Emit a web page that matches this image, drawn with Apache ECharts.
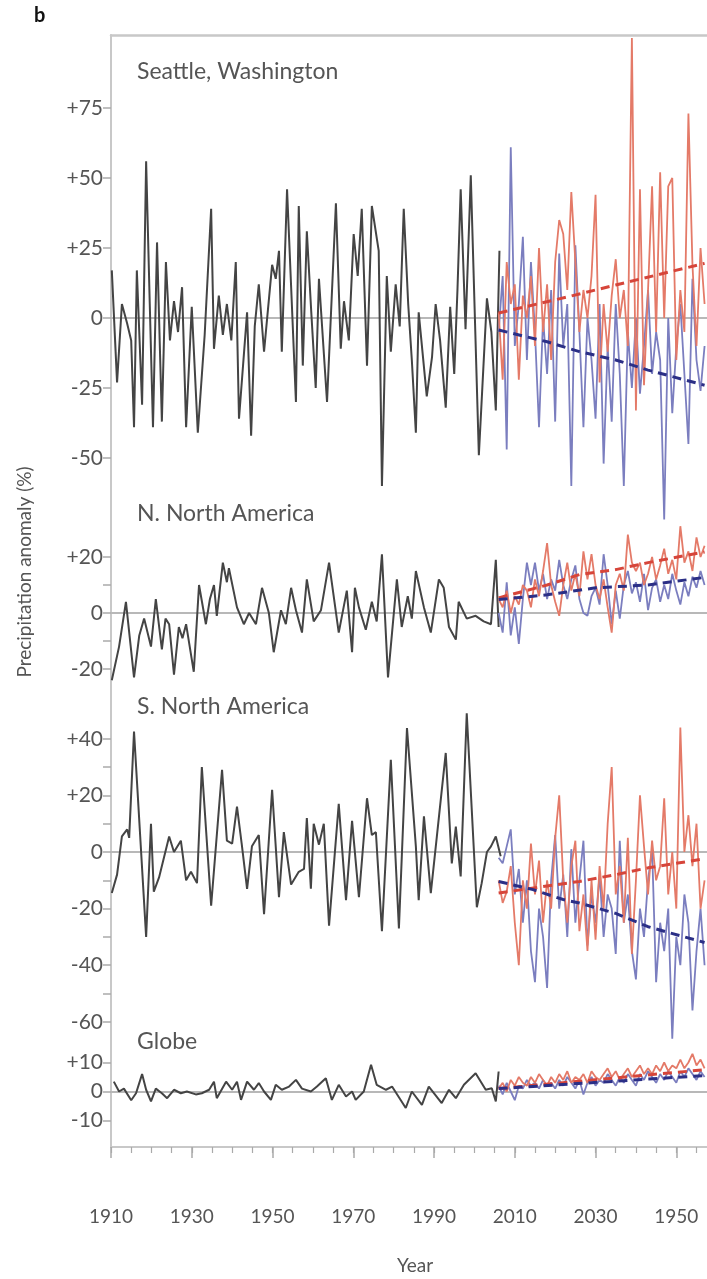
<!DOCTYPE html>
<html><head><meta charset="utf-8">
<script src="https://cdn.jsdelivr.net/npm/echarts@6/dist/echarts.min.js"></script>
<style>html,body{margin:0;padding:0;background:#fff}#c{width:707px;height:1279px}</style>
</head><body><div id="c"></div>
<script>
// ---------- tick labels ----------
const xTickYears = [1910,1930,1950,1970,1990,2010,2030,2050];
const xTickLabels = ['1910','1930','1950','1970','1990','2010','2030','1950'];
const panelTitles = ['Seattle, Washington','N. North America','S. North America','Globe'];
const seattleTicks = [-50,-25,0,25,50,75];
const nnaTicks = [-20,-10,0,10,20];
const nnaLabels = [-20,0,20];
const snaTicks = [-60,-50,-40,-30,-20,-10,0,10,20,30,40];
const snaLabels = [-60,-40,-20,0,20,40];
const globeTicks = [-10,0,10];

// ---------- observed (black), [year, % anomaly] ----------
const seattleObs = [[1910.2,17],[1911.5,-23],[1912.7,5],[1914.0,-2],[1915.0,-8],[1915.7,-39],[1916.4,17],[1917.7,-31],[1918.7,56],[1919.6,5],[1920.4,-39],[1921.4,27],[1922.6,-37],[1923.6,20],[1924.6,-8],[1925.6,6],[1926.6,-5],[1927.6,11],[1928.6,-39],[1930.0,4],[1931.5,-41],[1933.2,-6],[1934.8,39],[1935.5,-11],[1936.7,8],[1937.7,-6],[1938.7,5],[1939.8,-8],[1940.9,20],[1941.7,-36],[1943.7,2],[1944.7,-42],[1945.6,-3],[1946.6,12],[1947.9,-12],[1949.9,19],[1950.8,14],[1951.6,24],[1952.3,-12],[1953.6,46],[1955.8,-30],[1956.5,40],[1957.5,-17],[1958.5,31],[1959.6,2],[1960.7,-25],[1961.5,14],[1963.5,-30],[1965.7,41],[1966.9,-11],[1967.7,6],[1968.9,-8],[1970.1,30],[1971.1,15],[1972.1,39],[1973.4,-17],[1974.6,40],[1976.3,24],[1977.1,-60],[1978.3,15],[1979.3,-12],[1980.5,12],[1981.5,-3],[1982.5,39],[1983.6,5],[1984.5,-15],[1985.5,-41],[1986.2,2],[1988.2,-28],[1989.5,-14],[1990.4,5],[1991.5,-8],[1992.9,-32],[1994.0,4],[1995.0,-20],[1995.8,10],[1996.6,46],[1997.8,-4],[1999.1,51],[2001.1,-49],[2003.1,7],[2004.2,-5],[2005.3,-33],[2006.2,24]];
const nnaObs = [[1910.2,-24],[1912,-12],[1913.7,4],[1915.7,-23],[1917,-8],[1918.2,-2],[1919.9,-12],[1921.1,5],[1922.6,-13],[1923.5,-2],[1924.4,-4],[1925.6,-22],[1926.8,-5],[1927.7,-9],[1928.6,-4],[1930.5,-21],[1931.8,10],[1933.5,-4],[1934.5,5],[1935.5,10],[1936.2,-1],[1937.7,18],[1938.7,11],[1939.2,16],[1941.2,2],[1942.9,-4],[1944.2,0],[1945.9,-4],[1947.4,9],[1949.1,0],[1950.3,-14],[1952.1,1],[1953.3,-4],[1954.6,9],[1955.8,1],[1957.3,-7],[1958.5,12],[1960.2,-3],[1962,1],[1964,18],[1966.4,-7],[1968.4,8],[1969.7,-14],[1970.4,9],[1971.4,2],[1973.1,-6],[1974.6,4],[1975.8,-3],[1977.1,21],[1978.6,-23],[1980.8,12],[1982,-5],[1983.5,6],[1984.5,-2],[1985.5,15],[1987.5,2],[1989.2,-7],[1991.2,12],[1992.4,9],[1993.7,-5],[1995.4,-9.5],[1996.1,4],[1998.1,-2],[2000.3,-1],[2002.3,-3],[2004.1,-4],[2005.3,19],[2006,-5]];
const snaObs = [[1910.2,-14.5],[1911.5,-8],[1912.7,5.5],[1914,8],[1914.5,5],[1915.7,42.6],[1918.7,-30],[1919.9,10],[1920.6,-14],[1921.9,-9],[1924.4,5.5],[1925.6,0],[1927.3,4],[1928.6,-10],[1929.8,-7],[1931.3,-11],[1932.5,30],[1934.8,-19],[1937.5,29],[1938.7,4],[1940,3],[1941.2,16],[1942.4,2.5],[1943.7,-13],[1944.9,2],[1946.6,6],[1947.9,-22],[1949.9,22],[1951.6,-16],[1952.8,7],[1954.6,-11.5],[1956.5,-7],[1957.8,-6],[1958.5,12],[1959.5,-13],[1960.2,10],[1961.5,2.6],[1962.7,10],[1964,-26],[1966.4,17],[1968.2,-17],[1969.7,11],[1971.4,-16],[1973.4,19],[1974.6,6],[1975.6,7],[1977.1,-28],[1979.3,32.6],[1981.3,-27],[1983.3,43.8],[1985.5,2],[1986.2,-17],[1987.5,12.6],[1989.2,-14.5],[1990.7,5.5],[1992.9,35],[1994.4,-4],[1995.4,9],[1996.6,-8.6],[1998.1,49],[2000.6,-19.5],[2001.8,-11],[2003.1,0],[2004.1,2],[2005.3,5.5],[2006.5,-1.5]];
const globeObs = [[1910.7,3.4],[1912,0],[1913.2,1],[1915,-3],[1916.2,-0.6],[1917.7,6],[1918.7,0.6],[1919.9,-3.4],[1921.1,1],[1922.6,-0.6],[1923.9,-2.3],[1925.6,0.6],[1927.3,-0.6],[1928.8,0],[1931,-1],[1932.5,-0.6],[1934.3,0.6],[1935.5,3.4],[1936.2,-2.3],[1938.5,3.4],[1940,0.6],[1941.2,3.4],[1942.2,-2.9],[1943.7,3.4],[1945.4,0.6],[1946.6,2.9],[1947.9,0],[1949.6,-2.9],[1950.8,2.3],[1952.3,0.6],[1954.1,1.7],[1955.8,4],[1957.3,1],[1959.5,0],[1961,1.7],[1963.2,4.6],[1964.7,-2.9],[1966.4,2.3],[1968.2,-1.7],[1969.7,0],[1970.6,-2.9],[1972.6,0],[1974.4,9.2],[1975.8,2.3],[1978.1,0.6],[1979.6,1.7],[1983,-5.7],[1984.5,0],[1987,-4.6],[1988.7,1.7],[1991.9,-4],[1993.7,0.6],[1995.4,-2.3],[1997.4,2.3],[2000.3,6.3],[2002.8,0.6],[2004.3,1.1],[2005.3,-3.4],[2006,6.9]];

// ---------- projections, yearly from 2006 ----------
const projStart = 2006;
const seattleRed = [2,-22,20,5,12,-22,8,0,15,-10,25,-5,12,-15,20,35,30,10,45,20,-5,10,0,15,44,-23,5,-12,8,21,0,10,-10,100,-33,46,-24,10,47,-5,52,0,47,50,-15,10,-5,73,19,-10,25,5];
const seattleBlue = [-5,15,-47,61,-10,5,29,-15,20,-5,-39,0,-20,10,-37,23,-10,5,-60,26,-5,-39,0,-15,-36,5,-52,-10,-37,5,-20,-60,-5,-25,0,-27,-10,10,-20,-5,-15,-72,0,-34,-10,5,-20,-45,14,-15,-26,-10];
const nnaRed = [5,2,8,0,6,3,10,8,2,12,6,15,25,10,4,-1,10,18,8,14,6,22,12,21,10,5,12,2,-7,10,14,8,28,18,15,18,10,14,20,12,17,23,14,19,12,31,18,22,15,27,20,24];
const nnaBlue = [0,-7,11,-8,2,-11,5,18,10,18,8,14,5,12,8,19,10,5,12,17,5,0,-1,6,9,3,21,10,-4,8,-2,10,15,7,11,4,14,1,9,12,4,10,5,14,8,3,11,6,13,9,15,10];
const snaRed = [-10,-18,-14,-5,-25,-40,-10,-20,3,-15,-3,-25,-10,-20,5,20,-10,-25,-5,4,-28,-15,-35,-10,-31,-5,-20,10,30,-15,-5,-25,5,-36,-10,20,2,-15,4,-10,-5,19,-15,0,-20,44,0,13,-5,10,-20,-10];
const snaBlue = [-2,-4,2,8,-15,-6,-25,-10,-35,-46,-20,-30,-48,-10,6,-20,-8,-30,1,-25,-10,4,-33,-15,-25,-8,-30,-15,-20,-36,4,-25,-15,-35,-45,-20,-30,-10,1,-46,-25,-35,-20,-66,-30,-40,-15,-25,-56,-35,-20,-40];
const globeRed = [1,3,0,4,2,5,3,2,5,3,6,4,2,5,3,6,4,7,3,5,4,6,3,7,5,4,6,8,5,7,4,6,8,5,7,9,6,8,6,9,7,10,7,9,8,11,8,10,13,9,11,8];
const globeBlue = [2,-1,3,0,-3,2,1,4,2,3,1,4,2,3,1,4,2,5,3,1,4,-1,3,5,2,4,3,6,4,2,5,3,6,4,2,6,4,7,5,3,6,4,7,5,3,7,5,8,6,4,7,5];

// ---------- dashed trends, [year, %] ----------
const seattleRedTrend = [[2006,1.8],[2023,7.5],[2035,11.8],[2057,19.5]];
const seattleBlueTrend = [[2006,-4.3],[2018,-8.5],[2026,-12],[2035,-15],[2043,-18.6],[2057,-24]];
const nnaRedTrend = [[2006,5.4],[2018,10],[2026,13.7],[2035,15.5],[2043,18],[2057,21.8]];
const nnaBlueTrend = [[2006,4.8],[2018,6.5],[2030,9],[2043,10],[2057,12.7]];
const snaRedTrend = [[2006,-14.5],[2018,-12],[2026,-10.4],[2035,-8],[2043,-5.6],[2057,-2.4]];
const snaBlueTrend = [[2006,-10.4],[2014.5,-13.3],[2022,-16.8],[2026,-18],[2035,-21.7],[2043,-26.4],[2057,-32]];
const globeRedTrend = [[2006,1],[2057,7.5]];
const globeBlueTrend = [[2006,1],[2057,5.5]];

// ---------- build ----------
const FONT = 'Lato';
const TXT = '#555';
const AX = '#c8c8c8';
const XMIN = 1910, XMAX = 2057.6;
const proj = arr => arr.map((v, i) => [projStart + i, v]);
const fmt = v => (v > 0 ? '+' + v : String(v));

const panels = [
  {top:35,  height:493, min:-75,    max:101.07, ticks:seattleTicks, labels:seattleTicks, obs:seattleObs, red:seattleRed, blue:seattleBlue, rt:seattleRedTrend, bt:seattleBlueTrend},
  {top:528, height:172, min:-31.07, max:30.36,  ticks:nnaTicks, labels:nnaLabels, obs:nnaObs, red:nnaRed, blue:nnaBlue, rt:nnaRedTrend, bt:nnaBlueTrend},
  {top:700, height:340, min:-66.43, max:53.71,  ticks:snaTicks, labels:snaLabels, obs:snaObs, red:snaRed, blue:snaBlue, rt:snaRedTrend, bt:snaBlueTrend},
  {top:1040,height:107, min:-19.14, max:17.76,  ticks:globeTicks, labels:globeTicks, obs:globeObs, red:globeRed, blue:globeBlue, rt:globeRedTrend, bt:globeBlueTrend}
];

const grid = panels.map(p => ({left:111, right:0, top:p.top, height:p.height}));
const yAxis = panels.map((p, i) => ({
  type:'value', gridIndex:i, min:p.min, max:p.max, splitLine:{show:false},
  axisLine:{show:true, onZero:false, lineStyle:{color:AX, width:2}},
  axisTick:{show:true, customValues:p.ticks, length:8, lineStyle:{color:'#aaa', width:1.5}},
  axisLabel:{customValues:p.labels, formatter:fmt, color:TXT, fontSize:21, fontFamily:FONT, margin:8}
}));
const minorYears = [];
for (let y = 1910; y <= 2055; y += 5) minorYears.push(y);
const xAxis = [
  {type:'value', gridIndex:0, min:XMIN, max:XMAX, position:'top', splitLine:{show:false},
   axisLine:{show:true, onZero:false, lineStyle:{color:AX, width:2.5}}, axisTick:{show:false}, axisLabel:{show:false}},
  {type:'value', gridIndex:1, min:XMIN, max:XMAX, show:false},
  {type:'value', gridIndex:2, min:XMIN, max:XMAX, show:false},
  {type:'value', gridIndex:3, min:XMIN, max:XMAX, position:'bottom', splitLine:{show:false},
   axisLine:{show:true, onZero:false, lineStyle:{color:AX, width:2}},
   axisTick:{show:true, customValues:xTickYears, length:11, lineStyle:{color:'#aaa', width:1.5}},
   axisLabel:{customValues:xTickYears, formatter:v => xTickLabels[xTickYears.indexOf(v)] || '', color:TXT, fontSize:19, fontFamily:FONT, margin:60}},
  {type:'value', gridIndex:3, min:XMIN, max:XMAX, position:'bottom', splitLine:{show:false},
   axisLine:{show:false, onZero:false},
   axisTick:{show:true, customValues:minorYears, length:6, lineStyle:{color:'#aaa', width:1.2}},
   axisLabel:{show:false}}
];

const series = [];
panels.forEach((p, i) => {
  const base = {type:'line', xAxisIndex:i, yAxisIndex:i, showSymbol:false, symbol:'none', clip:false, silent:true, animation:false};
  series.push(Object.assign({}, base, {
    data:p.obs, lineStyle:{color:'#444', width:2}, z:3,
    markLine:{silent:true, symbol:'none', label:{show:false}, lineStyle:{color:'#b8b8b8', width:2, type:'solid'}, data:[{yAxis:0}], z:1}
  }));
  series.push(Object.assign({}, base, {data:proj(p.blue), lineStyle:{color:'#7b7ebf', width:1.8}, z:4}));
  series.push(Object.assign({}, base, {data:proj(p.red), lineStyle:{color:'#e47a68', width:1.8}, z:5}));
  series.push(Object.assign({}, base, {data:p.rt, lineStyle:{color:'#d6453a', width:3, type:[9,6]}, z:6}));
  series.push(Object.assign({}, base, {data:p.bt, lineStyle:{color:'#2b2f86', width:3, type:[9,6]}, z:7}));
});

const titleY = [72, 514, 707, 1042];
const graphic = [
  {type:'text', left:34, top:6, style:{text:'b', font:'bold 20px ' + FONT, fill:'#111'}},
  {type:'text', x:25, y:572, rotation:Math.PI/2, style:{text:'Precipitation anomaly (%)', font:'19px ' + FONT, fill:TXT, textAlign:'center', textVerticalAlign:'middle'}},
  {type:'text', x:415, y:1266, style:{text:'Year', font:'19px ' + FONT, fill:TXT, textAlign:'center', textVerticalAlign:'middle'}}
].concat(panelTitles.map((t, i) => ({type:'text', x:137, y:titleY[i], style:{text:t, font:'23px ' + FONT, fill:TXT, textAlign:'left', textVerticalAlign:'middle'}})));

const chart = echarts.init(document.getElementById('c'));
chart.setOption({animation:false, backgroundColor:'#fff', grid, xAxis, yAxis, series, graphic});
</script></body></html>
